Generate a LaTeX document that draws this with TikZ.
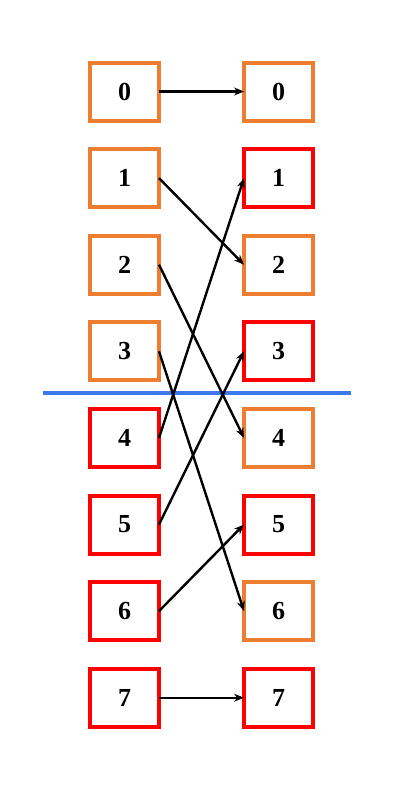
\documentclass[tikz,border=0pt]{standalone}
\usepackage{fontspec}
\setmainfont{Liberation Serif}
\usetikzlibrary{arrows.meta}
\definecolor{boxorange}{RGB}{237,125,49}
\definecolor{boxred}{RGB}{255,0,0}
\definecolor{divblue}{RGB}{60,120,235}
\tikzset{
  cell/.style={draw, line width=4pt, minimum width=69pt, minimum height=58pt, inner sep=0pt, outer sep=0pt, fill=white, font=\fontsize{26}{30}\selectfont\bfseries},
  oc/.style={cell, draw=boxorange},
  rc/.style={cell, draw=boxred},
  conn/.style={line width=2.4pt, -{Stealth[length=10pt,width=8pt]}},
}
\begin{document}
\begin{tikzpicture}[x=1pt,y=-1pt]
\useasboundingbox (0,0) rectangle (410,812);
\foreach \i/\s in {0/oc,1/oc,2/oc,3/oc,4/rc,5/rc,6/rc,7/rc}{
  \node[\s] (L\i) at (124.5,{91.5+86.6*\i}) {\i};
}
\foreach \i/\s in {0/oc,1/rc,2/oc,3/rc,4/oc,5/rc,6/oc,7/rc}{
  \node[\s] (R\i) at (278.5,{91.5+86.6*\i}) {\i};
}
\coordinate (bl) at (42.7,393.3);
\coordinate (br) at (351,393.3);
\draw[divblue, line width=4pt] (bl) -- (br);
\foreach \a/\b in {0/0,1/2,2/4,3/6,4/1,5/3,6/5,7/7}{
  \draw[conn] (L\a.east) -- (R\b.west);
}
\end{tikzpicture}
\end{document}
